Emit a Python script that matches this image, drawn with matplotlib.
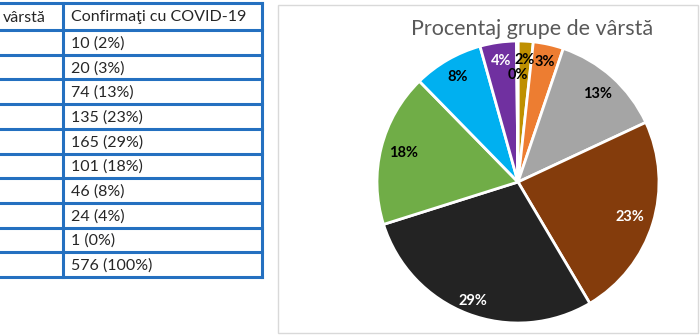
import numpy as np
import matplotlib.pyplot as plt
from matplotlib.patches import Rectangle

# date
grupe = ['0-9', '10-19', '20-29', '30-39', '40-49', '50-59', '60-69', '70-79', '80+']
confirmati = [10, 20, 74, 135, 165, 101, 46, 24, 1]
culori = ['#BF9000', '#ED7D31', '#A5A5A5', '#843C0C', '#232323',
          '#70AD47', '#00B0F0', '#7030A0', '#FFC000']
culori_text = ['black', 'black', 'black', 'white', 'white',
               'black', 'black', 'white', 'black']
dist_text = [0.87, 0.87, 0.84, 0.83, 0.9, 0.84, 0.86, 0.87, 0.76]

total = sum(confirmati)
procente = [round(100 * v / total) for v in confirmati]

plt.rcParams['font.family'] = ['Lato', 'DejaVu Sans']

fig = plt.figure(figsize=(7, 3.36), dpi=100)

# tabelul din stanga, in pixeli
tab = fig.add_axes([0, 0, 1, 1])
tab.set_xlim(0, 700)
tab.set_ylim(336, 0)
tab.axis('off')

albastru = '#2470C0'
y_sus, y0, h = 3, 30, 24.7
randuri = len(confirmati) + 1
y_jos = y0 + h * randuri
tab.plot([0, 262], [y_sus, y_sus], color=albastru, lw=2.2)
for k in range(randuri + 1):
    y = y0 + h * k
    tab.plot([0, 262], [y, y], color=albastru, lw=2.2)
tab.plot([63, 63], [y_sus, y_jos], color=albastru, lw=2.2)
tab.plot([262, 262], [y_sus, y_jos], color=albastru, lw=2.2)

fs = 11.5
tab.text(3, (y_sus + y0) / 2 + 1, 'vârstă', fontsize=fs, color='#262626', va='center')
tab.text(71, (y_sus + y0) / 2 + 1, 'Confirmaţi cu COVID-19', fontsize=fs,
         color='#262626', va='center')
celule = ['%d (%d%%)' % (v, p) for v, p in zip(confirmati, procente)]
celule.append('%d (100%%)' % total)
for k, t in enumerate(celule):
    tab.text(71, y0 + h * k + h / 2 + 1, t, fontsize=fs, color='#262626', va='center')

# chenarul graficului
tab.add_patch(Rectangle((278, 5), 420, 328, fill=False, edgecolor='#D9D9D9', lw=1))
tab.text(532, 29, 'Procentaj grupe de vârstă', fontsize=15.5, color='#595959',
         ha='center', va='center')

# placinta
ax = fig.add_axes([377 / 700, (336 - 323) / 336, 282 / 700, 282 / 336])
wedges, texte = ax.pie(confirmati, colors=culori, startangle=90, counterclock=False,
                       wedgeprops=dict(edgecolor='white', linewidth=2))
for w, p, c, d in zip(wedges, procente, culori_text, dist_text):
    ang = np.deg2rad((w.theta1 + w.theta2) / 2)
    ax.text(d * np.cos(ang), d * np.sin(ang), '%d%%' % p, ha='center', va='center',
            fontsize=10.5, fontweight='bold', color=c)
ax.set_xlim(-1, 1)
ax.set_ylim(-1, 1)

fig.savefig('out.png', dpi=100)
